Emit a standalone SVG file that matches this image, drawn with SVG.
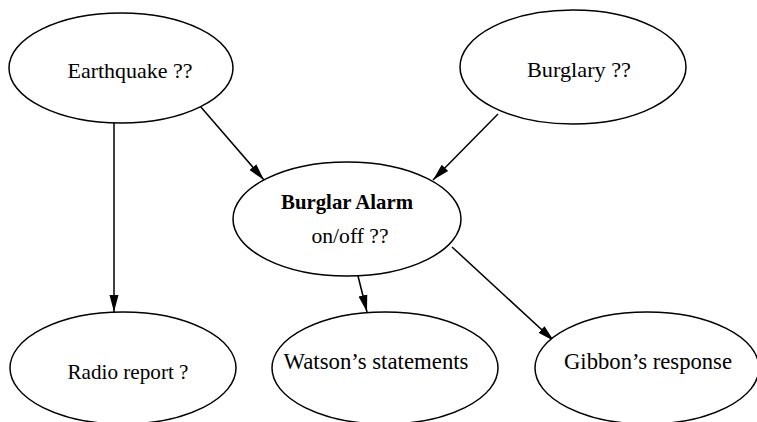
<svg xmlns="http://www.w3.org/2000/svg" width="757" height="422" viewBox="0 0 757 422">
  <style>
    .node ellipse { fill: #fff; stroke: #000; stroke-width: 1.5; }
    .node text { font-family: "Liberation Serif", "Times New Roman", serif; font-size: 21.5px; fill: #000; text-anchor: middle; }
    .node text.bold { font-weight: bold; }
    .node text.big { font-size: 23px; }
    .edge { stroke: #000; stroke-width: 1.5; fill: none; marker-end: url(#arrow); }
  </style>
  <defs>
    <marker id="arrow" markerUnits="userSpaceOnUse" markerWidth="18" markerHeight="11" refX="17" refY="5.5" orient="auto">
      <path d="M0,1 L17,5.5 L0,10 Z" fill="#000"/>
    </marker>
  </defs>
  <rect width="757" height="422" fill="#fff"/>

  <g id="connectors">
    <line class="edge" x1="114" y1="123" x2="114" y2="312"/>
    <line class="edge" x1="200" y1="106" x2="264" y2="180"/>
    <line class="edge" x1="498" y1="114" x2="433" y2="180"/>
    <line class="edge" x1="358" y1="276" x2="367" y2="312"/>
    <line class="edge" x1="452" y1="247" x2="554" y2="341"/>
  </g>

  <g id="earthquake" class="node">
    <ellipse cx="121" cy="68" rx="112" ry="55"/>
    <text x="130" y="78" textLength="125" lengthAdjust="spacingAndGlyphs">Earthquake ??</text>
  </g>
  <g id="burglary" class="node">
    <ellipse cx="573" cy="67" rx="113" ry="57"/>
    <text x="579" y="77" textLength="104" lengthAdjust="spacingAndGlyphs">Burglary ??</text>
  </g>
  <g id="alarm" class="node">
    <ellipse cx="347" cy="219" rx="114" ry="57"/>
    <text class="bold" x="347" y="209" textLength="132" lengthAdjust="spacingAndGlyphs">Burglar Alarm</text>
    <text x="350" y="243" textLength="77" lengthAdjust="spacingAndGlyphs">on/off ??</text>
  </g>
  <g id="radio" class="node">
    <ellipse cx="123" cy="368" rx="113" ry="56"/>
    <text x="128" y="379" textLength="121" lengthAdjust="spacingAndGlyphs">Radio report ?</text>
  </g>
  <g id="watson" class="node">
    <ellipse cx="385" cy="368" rx="113" ry="56"/>
    <text class="big" x="376" y="369" textLength="185" lengthAdjust="spacingAndGlyphs">Watson’s statements</text>
  </g>
  <g id="gibbon" class="node">
    <ellipse cx="647" cy="368" rx="112" ry="56"/>
    <text class="big" x="648" y="369" textLength="168" lengthAdjust="spacingAndGlyphs">Gibbon’s response</text>
  </g>
</svg>
